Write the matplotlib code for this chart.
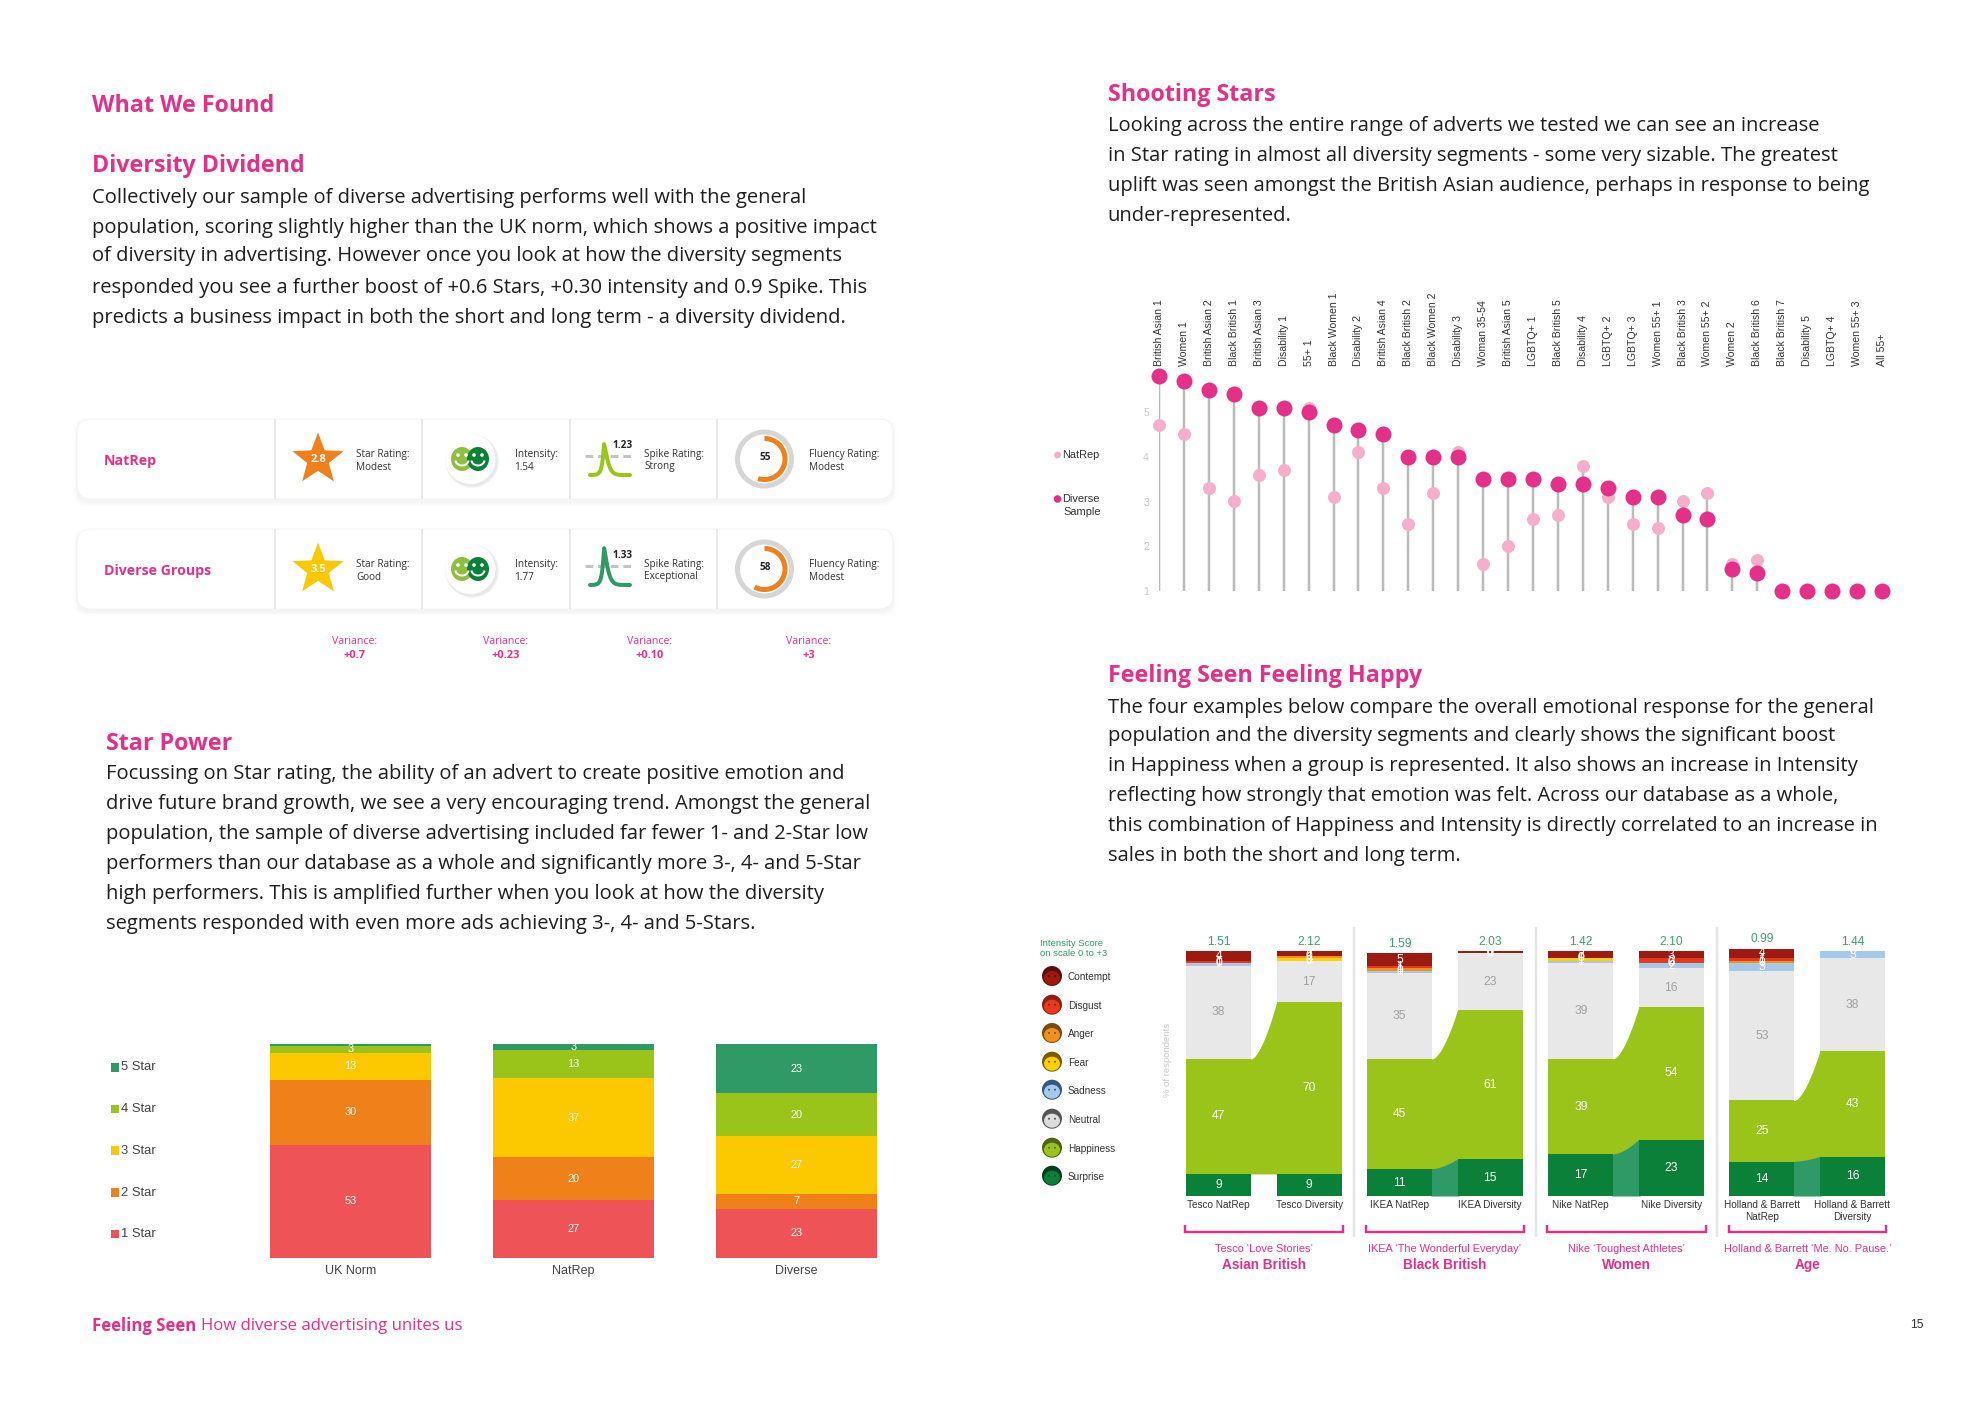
import numpy as np
import matplotlib
matplotlib.use("Agg")
import matplotlib.pyplot as plt
from matplotlib.patches import FancyBboxPatch, Circle, Polygon, Ellipse, Rectangle

W, H = 1984, 1403
PINK = "#E5308A"
TXT = "#1E1E1E"
BODY_FONT = "Open Sans"
CHART_FONT = "Liberation Sans"

# ---------- data ----------
star_cats = ["UK Norm", "NatRep", "Diverse"]
star_1 = [53, 27, 23]
star_2 = [30, 20, 7]
star_3 = [13, 37, 27]
star_4 = [3, 13, 20]
star_5 = [1, 3, 23]
star_names = ["1 Star", "2 Star", "3 Star", "4 Star", "5 Star"]
star_colors = ["#EE5357", "#F0811A", "#FCC800", "#9BC41A", "#2F9A66"]

seg_labels = ["British Asian 1", "Women 1", "British Asian 2", "Black British 1", "British Asian 3",
              "Disability 1", "55+ 1", "Black Women 1", "Disability 2", "British Asian 4",
              "Black British 2", "Black Women 2", "Disability 3", "Woman 35-54", "British Asian 5",
              "LGBTQ+ 1", "Black British 5", "Disability 4", "LGBTQ+ 2", "LGBTQ+ 3",
              "Women 55+ 1", "Black British 3", "Women 55+ 2", "Women 2", "Black British 6",
              "Black British 7", "Disability 5", "LGBTQ+ 4", "Women 55+ 3", "All 55+"]
diverse_sample = [5.8, 5.7, 5.5, 5.4, 5.1, 5.1, 5.0, 4.7, 4.6, 4.5, 4.0, 4.0, 4.0, 3.5, 3.5,
                  3.5, 3.4, 3.4, 3.3, 3.1, 3.1, 2.7, 2.6, 1.5, 1.4, 1, 1, 1, 1, 1]
natrep = [4.7, 4.5, 3.3, 3.0, 3.6, 3.7, 5.1, 3.1, 4.1, 3.3, 2.5, 3.2, 4.1, 1.6, 2.0,
          2.6, 2.7, 3.8, 3.1, 2.5, 2.4, 3.0, 3.2, 1.6, 1.7, 1, 1, 1, 1, 1]

ad_labels = ["Tesco NatRep", "Tesco Diversity", "IKEA NatRep", "IKEA Diversity",
             "Nike NatRep", "Nike Diversity", "Holland & Barrett\nNatRep", "Holland & Barrett\nDiversity"]
intensity = ["1.51", "2.12", "1.59", "2.03", "1.42", "2.10", "0.99", "1.44"]
surprise = [9, 9, 11, 15, 17, 23, 14, 16]
happiness = [47, 70, 45, 61, 39, 54, 25, 43]
neutral = [38, 17, 35, 23, 39, 16, 53, 38]
sadness = [1, 0, 1, 0, 1, 2, 3, 3]
fear = [0, 1, 0, 0, 1, 0, 0, 0]
anger = [0, 1, 1, 0, 0, 0, 1, 0]
disgust = [1, 0, 1, 0, 0, 2, 1, 0]
contempt = [4, 2, 5, 1, 3, 3, 4, 0]
emotion_names = ["Contempt", "Disgust", "Anger", "Fear", "Sadness", "Neutral", "Happiness", "Surprise"]
emotion_colors = ["#9C1A12", "#E53A1C", "#F39019", "#FFD000", "#A3C9EB", "#E8E8E8", "#9BC41A", "#0A8038"]
group_ads = ["Tesco \u2018Love Stories\u2019", "IKEA \u2018The Wonderful Everyday\u2019",
             "Nike \u2018Toughest Athletes\u2019", "Holland & Barrett \u2018Me. No. Pause.\u2019"]
group_names = ["Asian British", "Black British", "Women", "Age"]

card_names = ["NatRep", "Diverse Groups"]
card_star = [2.8, 3.5]
card_star_word = ["Modest", "Good"]
card_intensity = ["1.54", "1.77"]
card_spike = ["1.23", "1.33"]
card_spike_word = ["Strong", "Exceptional"]
card_fluency = [55, 58]
card_fluency_word = ["Modest", "Modest"]
variance = ["+0.7", "+0.23", "+0.10", "+3"]

# ---------- page ----------
fig = plt.figure(figsize=(W / 100, H / 100), dpi=100, facecolor="white")
pg = fig.add_axes([0, 0, 1, 1], zorder=0)
pg.set_xlim(0, W)
pg.set_ylim(H, 0)
pg.axis("off")


def px(v):
    return v * 0.72


def T(x, y, s, size=10, color=TXT, weight="normal", ha="left", va="center", font=CHART_FONT, **kw):
    return pg.text(x, y, s, fontsize=px(size), color=color, fontweight=weight, ha=ha, va=va, family=font, **kw)


def axes_px(l, t, r, b, **kw):
    return fig.add_axes([l / W, 1 - b / H, (r - l) / W, (b - t) / H], facecolor="none", **kw)


HEAD = 23.3
BODY = 20.15
DY = 2.5


def block(x, ys, lines):
    for y, s in zip(ys, lines):
        T(x + 0.5, y + DY, s, BODY, TXT, font=BODY_FONT)


def head(x, y, s):
    T(x + 0.5, y + DY, s, HEAD, PINK, "bold", font=BODY_FONT)


head(92, 104, "What We Found")
head(92, 163, "Diversity Dividend")
block(92, [195, 225, 254, 285, 315], [
    "Collectively our sample of diverse advertising performs well with the general",
    "population, scoring slightly higher than the UK norm, which shows a positive impact",
    "of diversity in advertising. However once you look at how the diversity segments",
    "responded you see a further boost of +0.6 Stars, +0.30 intensity and 0.9 Spike. This",
    "predicts a business impact in both the short and long term - a diversity dividend."])
head(106, 741.5, "Star Power")
block(106, [772, 802, 831, 862, 892, 922], [
    "Focussing on Star rating, the ability of an advert to create positive emotion and",
    "drive future brand growth, we see a very encouraging trend. Amongst the general",
    "population, the sample of diverse advertising included far fewer 1- and 2-Star low",
    "performers than our database as a whole and significantly more 3-, 4- and 5-Star",
    "high performers. This is amplified further when you look at how the diversity",
    "segments responded with even more ads achieving 3-, 4- and 5-Stars."])
head(1107, 92.5, "Shooting Stars")
block(1107, [124, 154, 183.5, 214], [
    "Looking across the entire range of adverts we tested we can see an increase",
    "in Star rating in almost all diversity segments - some very sizable. The greatest",
    "uplift was seen amongst the British Asian audience, perhaps in response to being",
    "under-represented."])
head(1107, 673, "Feeling Seen Feeling Happy")
block(1107, [705, 734, 764, 793, 824, 854], [
    "The four examples below compare the overall emotional response for the general",
    "population and the diversity segments and clearly shows the significant boost",
    "in Happiness when a group is represented. It also shows an increase in Intensity",
    "reflecting how strongly that emotion was felt. Across our database as a whole,",
    "this combination of Happiness and Intensity is directly correlated to an increase in",
    "sales in both the short and long term."])
T(92.5, 1326, "Feeling Seen", 16.8, PINK, "bold", font=BODY_FONT)
T(201, 1326, "How diverse advertising unites us", 16.8, PINK, font=BODY_FONT)
T(1917, 1325, "15", 12, "#333333", ha="center")

# ---------- score cards ----------
card_tops = [419, 529]
card_h = 80
card_l, card_w = 77, 816


def star_poly(cx, cy, R):
    a = np.deg2rad(np.arange(10)) * 36 - np.pi / 2
    rr = np.where(np.arange(10) % 2 == 0, R, R * 0.42)
    return np.c_[cx + rr * np.cos(a), cy + rr * np.sin(a)]


for i, top in enumerate(card_tops):
    for k, a in zip([8, 5, 2.5], [0.008, 0.012, 0.018]):
        pg.add_patch(FancyBboxPatch((card_l - k / 2, top + 3 - k / 2), card_w + k, card_h + k,
                                    boxstyle="round,pad=0,rounding_size=14", fc="black", ec="none", alpha=a))
    pg.add_patch(FancyBboxPatch((card_l, top), card_w, card_h, boxstyle="round,pad=0,rounding_size=14",
                                fc="white", ec="#F2F2F2", lw=0.6))
    for dx in [275, 422, 569.5, 716.5]:
        pg.plot([dx, dx], [top, top + card_h], color="#E8E8E8", lw=px(2), solid_capstyle="butt")
    cy = top + 40
    T(104, cy + 2.5, card_names[i], 14.1, PINK, "bold", font=BODY_FONT)
    # star
    col = star_colors[1] if i == 0 else star_colors[2]
    pg.add_patch(Polygon(star_poly(318, top + 40.5, 27), closed=True, fc=col, ec="none"))
    T(318, top + 41, f"{card_star[i]:.1f}", 11, "white", "bold", ha="center", font=BODY_FONT)
    T(356, top + 35, "Star Rating:", 10, "#333333", font=BODY_FONT)
    T(356, top + 48, card_star_word[i], 10, "#333333", font=BODY_FONT)
    # intensity icon
    for k, a in zip([5, 3, 1.5], [0.02, 0.03, 0.04]):
        pg.add_patch(Circle((472, top + 42), 25 + k / 2, fc="black", ec="none", alpha=a))
    pg.add_patch(Circle((470.5, top + 40), 25, fc="white", ec="none"))
    for fx, fc in [(462, "#8FBF40"), (478, "#0A8038")]:
        pg.add_patch(Ellipse((fx, top + 40), 22, 24, fc=fc, ec="none", zorder=3))
        for ex in (-4, 4):
            pg.add_patch(Circle((fx + ex, top + 36), 1.8, fc="white", ec="none", zorder=4))
        t = np.deg2rad(np.linspace(15, 165, 20))
        pg.plot(fx + 6.5 * np.cos(t), top + 41 + 5.5 * np.sin(t), color="white", lw=px(2), zorder=4)
    T(514.5, top + 35, "Intensity:", 10, "#333333", font=BODY_FONT)
    T(514.5, top + 48, card_intensity[i], 10, "#333333", font=BODY_FONT)
    # spike icon
    col = "#9BC41A" if i == 0 else "#2F9A66"
    base, peak = top + 56, top + 25 if i == 0 else top + 19
    sx = np.linspace(590, 630, 200)
    sy = np.where(sx < 604, base - (base - peak) * np.exp(-(604 - sx) / 1.9),
                  base - (base - peak) * np.exp(-(sx - 604) ** 1.3 / 7))
    pg.plot(sx, sy, color=col, lw=px(4), solid_capstyle="round", zorder=3)
    pg.plot([585, 631], [top + 37] * 2, color="#C4C4C4", lw=px(3), ls=(0, (2.6, 1.6)), zorder=2)
    T(622, top + 26.5, card_spike[i], 10, "#222222", "bold", ha="center", font=BODY_FONT)
    T(644, top + 35, "Spike Rating:", 10, "#333333", font=BODY_FONT)
    T(644, top + 48, card_spike_word[i], 10, "#333333", font=BODY_FONT)
    # fluency ring
    c = (764.5, top + 40)
    pg.add_patch(Circle(c, 27, fc="none", ec="#D6D6D6", lw=px(5)))
    a = np.deg2rad(np.linspace(0, 3.6 * card_fluency[i], 100))
    pg.plot(c[0] + 20.5 * np.sin(a), c[1] - 20.5 * np.cos(a), color="#F0811A", lw=px(5), solid_capstyle="butt")
    T(c[0] + 1, c[1] - 1, str(card_fluency[i]), 10, "#222222", "bold", ha="center", font=BODY_FONT)
    T(809, top + 35, "Fluency Rating:", 10, "#333333", font=BODY_FONT)
    T(809, top + 48, card_fluency_word[i], 10, "#333333", font=BODY_FONT)

for vx, v in zip([354.5, 506, 649.5, 809], variance):
    T(vx, 642, "Variance:", 10.5, PINK, ha="center", font=BODY_FONT)
    T(vx, 655, v, 11, PINK, "bold", ha="center", font=BODY_FONT)

# ---------- star power stacked bars ----------
ax = axes_px(270, 1044, 877, 1258)
series = [star_1, star_2, star_3, star_4, star_5]
bottom = np.zeros(3)
for vals, col in zip(series, star_colors):
    ax.bar(range(3), vals, bottom=bottom, width=0.72, color=col, linewidth=0)
    for x, (v, b) in enumerate(zip(vals, bottom)):
        if v >= 3:
            ax.text(x, b + v / 2, str(v), color="white", ha="center", va="center",
                    fontsize=px(11), family=CHART_FONT)
    bottom += np.array(vals)
ax.set_xlim(-0.36, 2.36)
ax.set_ylim(0, 100)
ax.set_xticks(range(3), star_cats, family=CHART_FONT, fontsize=px(12.5), color="#444444")
ax.set_yticks([])
ax.tick_params(length=0, pad=px(7))
for s in ax.spines.values():
    s.set_visible(False)
for y, name, col in zip([1232.7, 1191, 1149, 1107.7, 1066], star_names, star_colors):
    pg.add_patch(Rectangle((110.5, y - 3), 8.5, 8.5, fc=col, ec="none"))
    T(121, y + 1.5, name, 13, "#444444")

# ---------- shooting stars lollipop ----------
ax = axes_px(1159, 367, 1882, 591)
xs = np.arange(len(seg_labels))
tops = np.maximum(diverse_sample, natrep)
ax.vlines(xs, 1, tops, color="#BBBBBB", lw=px(2.5), zorder=1)
ax.plot(xs, natrep, "o", ms=px(13), color="#F5AFCC", mew=0, zorder=2, clip_on=False)
ax.plot(xs, diverse_sample, "o", ms=px(16), color=PINK, mew=0, zorder=3, clip_on=False)
ax.set_xlim(0, len(seg_labels) - 1)
ax.set_ylim(1, 1 + (591 - 367) / 44.75)
ax.xaxis.tick_top()
ax.set_xticks(xs, seg_labels, rotation=90, family=CHART_FONT, fontsize=px(10.5), color="#333333",
              ha="center", va="bottom")
ax.set_yticks([1, 2, 3, 4, 5], ["1", "2", "3", "4", "5"], family=CHART_FONT, fontsize=px(10.5), color="#C8C8C8")
ax.tick_params(length=0, axis="both")
ax.tick_params(axis="y", pad=px(10))
ax.tick_params(axis="x", pad=px(1))
for s in ax.spines.values():
    s.set_visible(False)
pg.add_patch(Circle((1057.5, 455), 3.4, fc="#F5AFCC", ec="none"))
T(1062.5, 455, "NatRep", 11, "#333333")
pg.add_patch(Circle((1057.5, 499), 3.8, fc=PINK, ec="none"))
T(1062.5, 499, "Diverse", 11, "#333333")
T(1101, 512, "Sample", 11, "#333333", ha="right")

# ---------- feeling seen bars ----------
ax = axes_px(1186, 951, 1885, 1196)
stack = [surprise, happiness, neutral, sadness, fear, anger, disgust, contempt]
stack_cols = emotion_colors[::-1]
n = len(ad_labels)
bw = 0.72
bottom = np.zeros(n)
for j, (vals, col) in enumerate(zip(stack, stack_cols)):
    ax.bar(range(n), vals, bottom=bottom, width=bw, color=col, linewidth=0, zorder=2, clip_on=False)
    for x, (v, b) in enumerate(zip(vals, bottom)):
        ax.text(x, b + v / 2, str(v), ha="center", va="center", fontsize=px(12), family=CHART_FONT,
                color="#A0A0A0" if j == 2 else "white", zorder=4, clip_on=False)
    bottom += np.array(vals)
sur = np.array(surprise, float)
hap = sur + np.array(happiness)
bar_tops = bottom.copy()
for g in range(0, n, 2):
    gx = np.linspace(g + bw / 2, g + 1 - bw / 2, 60)
    t = (gx - gx[0]) / (gx[-1] - gx[0])
    ease = t ** 1.6
    up = hap[g] + (hap[g + 1] - hap[g]) * ease
    lo = sur[g] + (sur[g + 1] - sur[g]) * ease
    ovl = 0.015
    gx2 = np.r_[gx[0] - ovl, gx, gx[-1] + ovl]
    up2 = np.r_[up[0], up, up[-1]]
    lo2 = np.r_[lo[0], lo, lo[-1]]
    ax.fill_between(gx2, lo2, up2, color=emotion_colors[6], lw=0, zorder=1)
    if surprise[g] != surprise[g + 1]:
        ax.fill_between(gx2, 0, lo2 + 0.2, color="#2F9A66", lw=0, zorder=1.5)
for x, (s, b) in enumerate(zip(intensity, bar_tops)):
    ax.text(x, b + 3.7, s, ha="center", va="center", color="#3C9F70", fontsize=px(12), family=CHART_FONT)
ax.set_xlim(-0.36, n - 1 + 0.36)
ax.set_ylim(0, 100)
ax.set_xticks(range(n), ad_labels, family=CHART_FONT, fontsize=px(10), color="#333333", linespacing=1.2)
ax.set_yticks([])
ax.tick_params(length=0, pad=px(4.5))
for s in ax.spines.values():
    s.set_visible(False)

for sx in [1354, 1536, 1716.7]:
    pg.plot([sx, sx], [927, 1237], color="#E6E6E6", lw=px(2.5), solid_capstyle="butt")
for (l, r), ad, gn in zip([(1185, 1343), (1366, 1524), (1547, 1706), (1729, 1886)], group_ads, group_names):
    pg.plot([l, l, r, r], [1225, 1232, 1232, 1225], color=PINK, lw=px(2.4), solid_joinstyle="miter",
            solid_capstyle="butt")
    T((l + r) / 2, 1249.5, ad, 11, PINK, ha="center")
    T((l + r) / 2, 1265, gn, 13.6, PINK, "bold", ha="center")

T(1040, 943, "Intensity Score", 9.5, "#2F9A66")
T(1040, 954, "on scale 0 to +3", 9.5, "#2F9A66")
T(1167, 1060, "% of respondents", 9.5, "#C8C8C8", ha="center", rotation=90)
dark = ["#5A0F0B", "#8F1E10", "#7A4A10", "#7A5A05", "#34597F", "#555555", "#4C6414", "#063F1D"]
for y, name, col, dk in zip([976, 1004.7, 1033, 1061.7, 1089.7, 1118.7, 1147.7, 1175.7],
                            emotion_names, emotion_colors, dark):
    pg.add_patch(Circle((1052, y), 10, fc=dk, ec="none"))
    pg.add_patch(Ellipse((1052, y + 2), 16, 14, fc=col if name != "Neutral" else "#DDDDDD", ec="none"))
    for ex in (-3, 3):
        pg.add_patch(Circle((1052 + ex, y), 1, fc=dk, ec="none"))
    T(1068, y + 1, name, 10, "#333333")

fig.savefig("out.png", dpi=100, facecolor="white")
